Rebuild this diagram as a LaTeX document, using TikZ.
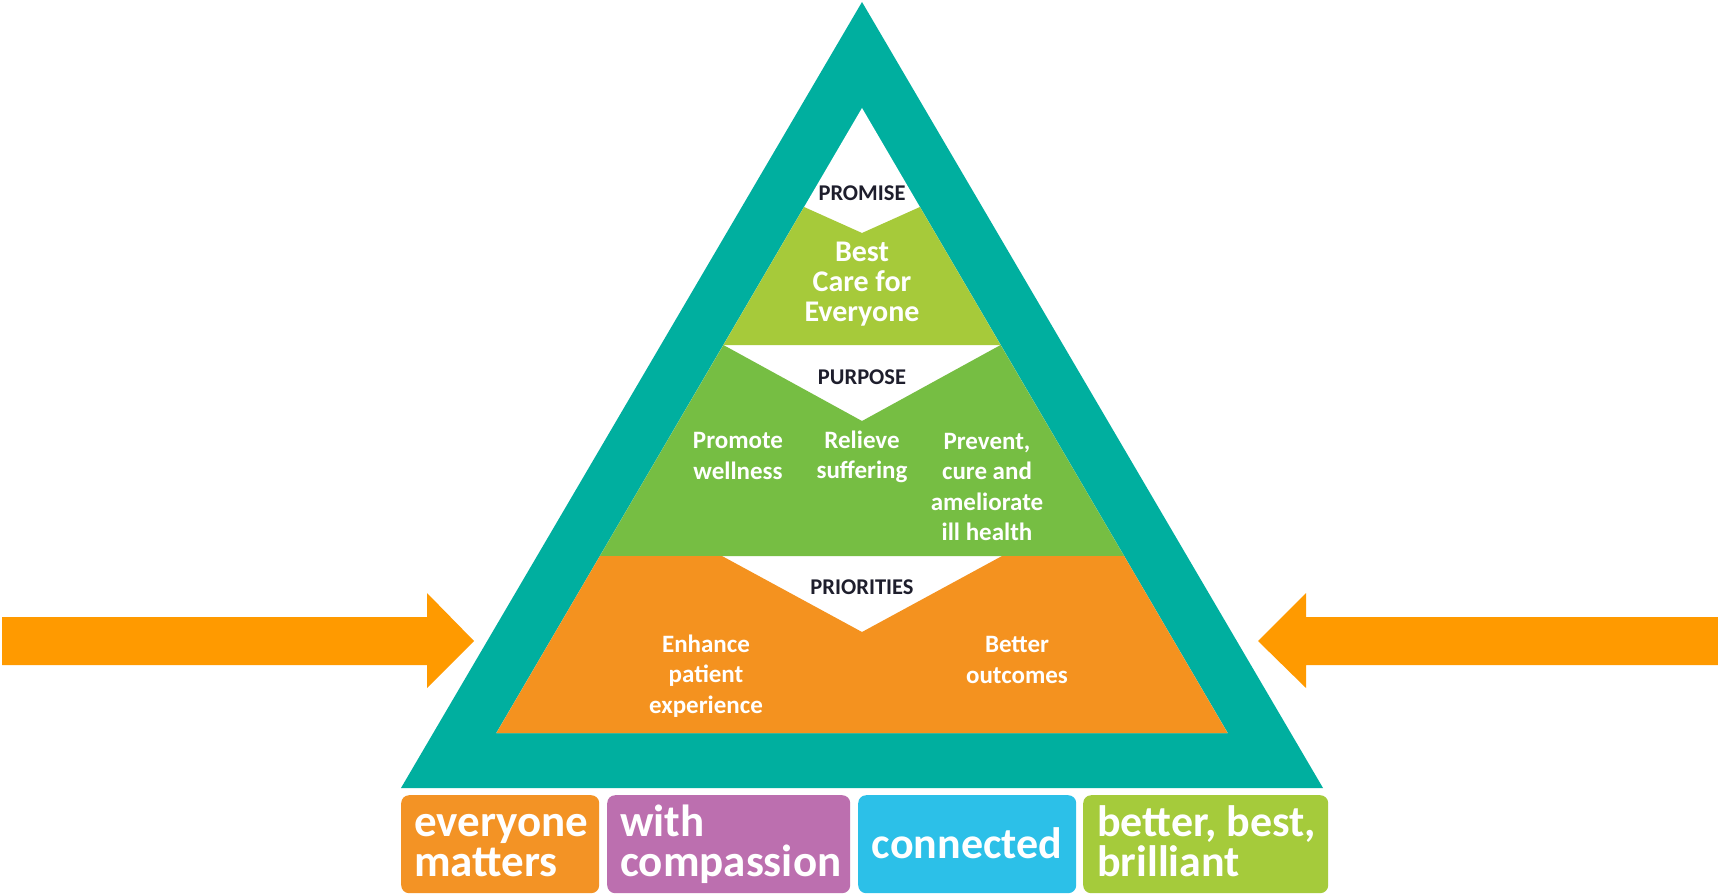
\documentclass[tikz,border=0pt]{standalone}
\usepackage{fontspec}
\setmainfont{Carlito}
\definecolor{tealout}{HTML}{00AF9F}
\definecolor{lgreen}{HTML}{A6CA3A}
\definecolor{mgreen}{HTML}{76BE43}
\definecolor{oband}{HTML}{F4921F}
\definecolor{oarrow}{HTML}{FF9A00}
\definecolor{obox}{HTML}{F39325}
\definecolor{pbox}{HTML}{BC6FAF}
\definecolor{bbox}{HTML}{2CC0E8}
\definecolor{gbox}{HTML}{A5CB3B}
\definecolor{darktxt}{HTML}{1E1E2C}
\begin{document}
\begin{tikzpicture}[x=1pt,y=-1pt,
  bandtitle/.style={font=\bfseries\fontsize{22.5}{26}\selectfont, text=darktxt, inner sep=0pt},
  bigtxt/.style={font=\bfseries\fontsize{30}{30}\selectfont, text=white, align=center, inner sep=0pt},
  midtxt/.style={font=\bfseries\fontsize{25}{30.5}\selectfont, text=white, align=center, inner sep=0pt},
  tile/.style={rounded corners=8pt, minimum height=98pt, anchor=north west, inner sep=0pt, draw=none},
  tiletxt/.style={font=\bfseries\fontsize{45}{40}\selectfont, text=white, inner sep=0pt, align=left, anchor=base west},
  blockarrow/.style={fill=oarrow, draw=none}]
\useasboundingbox (0,0) rectangle (1718,896);
\fill[white] (0,0) rectangle (1718,896);

% outer teal triangle
\fill[tealout] (862,2) -- (1323,788) -- (401,788) -- cycle;
% inner white trapezoid
\fill[white] (862,108) -- (1227.6,733) -- (496.4,733) -- cycle;
% promise band (light green)
\fill[lgreen] (804.1,207) -- (862,233) -- (919.9,207) -- (1000.6,345) -- (723.4,345) -- cycle;
% purpose band (mid green)
\fill[mgreen] (723.4,345) -- (862,421) -- (1000.6,345) -- (1124.1,556) -- (599.9,556) -- cycle;
% priorities band (orange)
\fill[oband] (599.9,556) -- (722,556) -- (862,632) -- (1002,556) -- (1124.1,556) -- (1227.6,733) -- (496.4,733) -- cycle;

% side arrows
\fill[blockarrow] (2,617) -- (427,617) -- (427,593) -- (474,641) -- (427,688) -- (427,665) -- (2,665) -- cycle;
\fill[blockarrow] (1718,617) -- (1306,617) -- (1306,593) -- (1258,641) -- (1306,688) -- (1306,665) -- (1718,665) -- cycle;

% band titles
\node[bandtitle] (promise) at (862,193) {PROMISE};
\node[bandtitle] (purpose) at (862,377) {PURPOSE};
\node[bandtitle] (priorities) at (862,587) {PRIORITIES};

% band texts
\node[bigtxt] (best) at (862,284) {Best\\Care for\\Everyone};
\node[midtxt] (promote) at (738,456) {Promote\\wellness};
\node[midtxt] (relieve) at (862,457) {Relieve\\suffering};
\node[midtxt] (prevent) at (987,487) {Prevent,\\cure and\\ameliorate\\ill health};
\node[midtxt] (enhance) at (706,676) {Enhance\\patient\\experience};
\node[midtxt] (better) at (1017,660) {Better\\outcomes};

% value tiles
\node[tile, fill=obox, minimum width=198pt] (t1) at (401,795) {};
\node[tile, fill=pbox, minimum width=243pt] (t2) at (607,795) {};
\node[tile, fill=bbox, minimum width=218pt] (t3) at (858,795) {};
\node[tile, fill=gbox, minimum width=245pt] (t4) at (1083,795) {};

\node[tiletxt] (t1a) at (414,876) {everyone\\matters};
\node[tiletxt] (t2a) at (620,876) {with\\compassion};
\node[tiletxt, anchor=base, font=\bfseries\fontsize{44}{44}\selectfont] (t3a) at (967,858) {connected};
\node[tiletxt, font=\bfseries\fontsize{44}{40}\selectfont] (t4a) at (1097,876) {better, best,\\brilliant};
\end{tikzpicture}
\end{document}
